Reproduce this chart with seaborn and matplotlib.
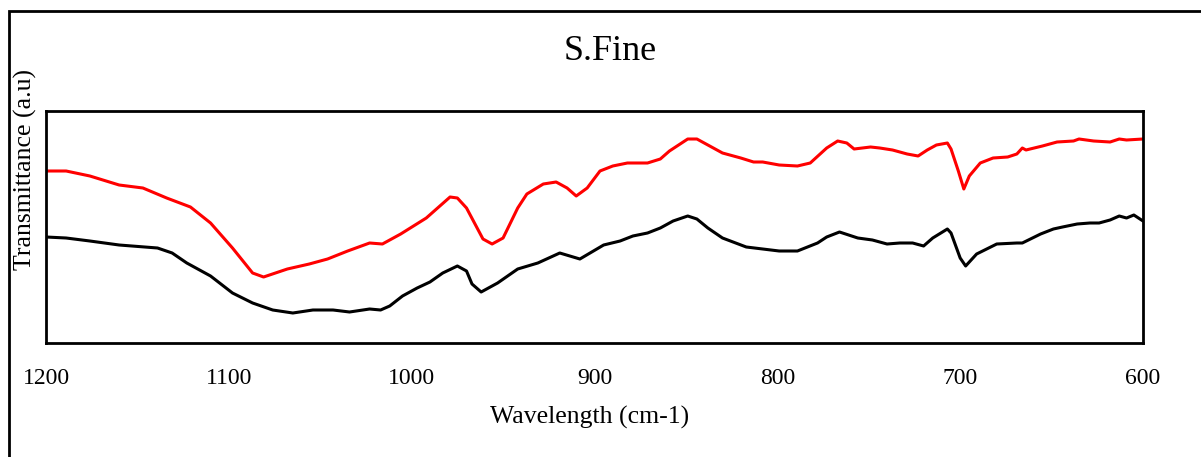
import matplotlib
matplotlib.use("Agg")
import matplotlib.pyplot as plt
import seaborn as sns
import pandas as pd
from matplotlib.patches import Rectangle

# red curve (upper spectrum)
red_wn = [1200, 1189, 1176, 1160, 1147, 1134, 1121, 1110, 1098, 1087, 1081, 1068,
          1056, 1046, 1035, 1023, 1016, 1006, 992, 979, 975, 970, 961, 956, 950,
          942, 937, 928, 921, 915, 910, 904, 897, 890, 882, 871, 864, 859, 849,
          844, 837, 830, 820, 813, 808, 799, 789, 782, 773, 767, 762, 758, 749,
          744, 737, 729, 723, 718, 713, 707, 705, 701, 698, 695, 689, 682, 674,
          669, 666, 664, 655, 647, 638, 635, 627, 618, 613, 609, 600]
red_t = [172, 172, 167, 158, 155, 145, 136, 120, 95, 70, 66, 74,
         79, 84, 92, 100, 99, 109, 125, 146, 145, 135, 104, 99, 105,
         135, 149, 159, 161, 155, 147, 155, 172, 177, 180, 180, 184, 192, 204,
         204, 197, 190, 185, 181, 181, 178, 177, 180, 195, 202, 200, 194, 196,
         195, 193, 189, 187, 193, 198, 200, 194, 172, 154, 167, 180, 185, 186,
         189, 195, 193, 197, 201, 202, 204, 202, 201, 204, 203, 204]

# black curve (lower spectrum)
black_wn = [1200, 1189, 1176, 1160, 1139, 1131, 1123, 1110, 1098, 1087, 1076, 1065,
            1054, 1043, 1034, 1023, 1017, 1012, 1005, 997, 990, 983, 975, 970,
            967, 962, 953, 942, 931, 919, 908, 895, 886, 879, 871, 864, 857, 849,
            844, 838, 830, 817, 808, 799, 789, 778, 773, 766, 756, 748, 740, 733,
            726, 720, 715, 707, 705, 700, 697, 691, 680, 669, 666, 656, 649, 644,
            636, 629, 624, 618, 613, 609, 605, 600]
black_t = [106, 105, 102, 98, 95, 90, 80, 67, 50, 40, 33, 30,
           33, 33, 31, 34, 33, 37, 47, 55, 61, 70, 77, 72,
           59, 51, 60, 74, 80, 90, 84, 98, 102, 107, 110, 115, 122, 127,
           124, 115, 105, 96, 94, 92, 92, 100, 106, 111, 105, 103, 99, 100,
           100, 97, 105, 114, 110, 85, 77, 89, 99, 100, 100, 109, 114, 116,
           119, 120, 120, 123, 127, 125, 128, 122]

x_ticks = [1200, 1100, 1000, 900, 800, 700, 600]

sns.set_style("white")
plt.rcParams['font.family'] = ['Liberation Serif', 'DejaVu Serif']
plt.rcParams['text.color'] = 'black'
plt.rcParams['xtick.color'] = 'black'
plt.rcParams['xtick.labelcolor'] = 'black'

fig = plt.figure(figsize=(12.01, 4.57), dpi=100)
ax = fig.add_axes([46 / 1201, 1 - 343 / 457, (1143 - 46) / 1201, (343 - 111) / 457])

red_df = pd.DataFrame({'wn': red_wn, 't': red_t})
black_df = pd.DataFrame({'wn': black_wn, 't': black_t})
sns.lineplot(data=red_df, x='wn', y='t', color='#ff0000', lw=2.2, ax=ax, sort=False)
sns.lineplot(data=black_df, x='wn', y='t', color='black', lw=2.2, ax=ax, sort=False)

ax.set_xlim(1200, 600)
ax.set_ylim(0, 232)
ax.set_xticks(x_ticks)
ax.set_xticklabels([str(v) for v in x_ticks], fontsize=17, color='black')
ax.set_yticks([])
ax.tick_params(axis='x', length=0, pad=18)
ax.set_xlabel('')
ax.set_ylabel('')
for s in ax.spines.values():
    s.set_visible(True)
    s.set_color('black')
    s.set_linewidth(2)

fig.text(610 / 1201, 1 - 51 / 457, 'S.Fine', ha='center', va='center', fontsize=26)
fig.text(590 / 1201, 1 - 417 / 457, 'Wavelength (cm-1)', ha='center', va='center', fontsize=18.5)
fig.text(25 / 1201, 1 - 170 / 457, 'Transmittance (a.u)', ha='center', va='center',
         rotation=90, fontsize=18.5)

# outer frame (only left and top edges visible in the picture)
fig.patches.append(Rectangle((8.5 / 1201, -0.2), 1.2, 1.2 - 11 / 457,
                             transform=fig.transFigure, fill=False,
                             edgecolor='black', lw=2, zorder=0))

fig.savefig('out.png', dpi=100)
